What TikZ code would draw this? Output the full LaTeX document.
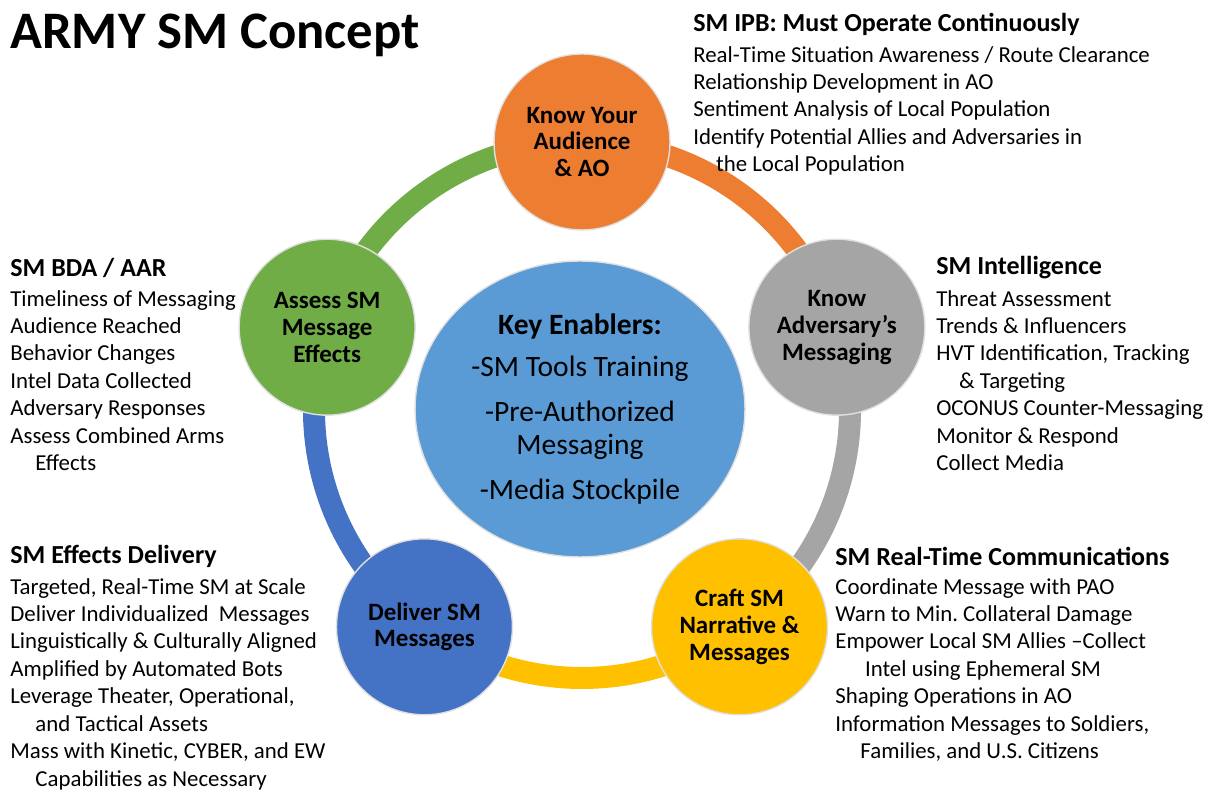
\documentclass[tikz,border=0pt]{standalone}
\usepackage{fontspec}
\setmainfont{Carlito}
\usetikzlibrary{positioning,shapes.geometric}
\frenchspacing

\definecolor{audorange}{HTML}{ED7D31}
\definecolor{advgray}{HTML}{A5A5A5}
\definecolor{craftyellow}{HTML}{FFC000}
\definecolor{deliverblue}{HTML}{4472C4}
\definecolor{assessgreen}{HTML}{70AD47}
\definecolor{keyblue}{HTML}{5B9BD5}

\tikzset{
  stage/.style={circle, minimum size=3.52cm, inner sep=0pt, draw=black!12,
    line width=0.8pt, align=center, font=\fontsize{14.2}{15.3}\selectfont\bfseries},
  ringarc/.style={line width=0.44cm},
  head/.style={anchor=west, inner sep=0pt, font=\fontsize{14.8}{17}\selectfont\bfseries},
  items/.style={anchor=north west, inner sep=0pt, align=left,
    font=\fontsize{13}{15.6}\selectfont},
}

\begin{document}
\begin{tikzpicture}[x=0.02cm, y=0.02cm]
    \useasboundingbox (0,0) rectangle (1210,791);
    \coordinate (ctr) at (582,381);

    % ring between the five stages
    \draw[ringarc, audorange] ([shift={(90:268)}]ctr) arc[start angle=90, end angle=18, radius=268];
    \draw[ringarc, advgray] ([shift={(18:268)}]ctr) arc[start angle=18, end angle=-54, radius=268];
    \draw[ringarc, craftyellow] ([shift={(-54:268)}]ctr) arc[start angle=-54, end angle=-126, radius=268];
    \draw[ringarc, deliverblue] ([shift={(-126:268)}]ctr) arc[start angle=-126, end angle=-198, radius=268];
    \draw[ringarc, assessgreen] ([shift={(162:268)}]ctr) arc[start angle=162, end angle=90, radius=268];

    % stages
    \node[stage, fill=audorange] (aud) at ([shift={(90:268)}]ctr) {Know Your\\Audience\\\& AO};
    \node[stage, fill=advgray] (adv) at ([shift={(18:268)}]ctr) {Know\\Adversary’s\\Messaging};
    \node[stage, fill=craftyellow] (craft) at ([shift={(-54:268)}]ctr) {Craft SM\\Narrative \&\\Messages};
    \node[stage, fill=deliverblue] (deliver) at ([shift={(-126:268)}]ctr) {Deliver SM\\Messages};
    \node[stage, fill=assessgreen] (assess) at ([shift={(162:268)}]ctr) {Assess SM\\Message\\Effects};

    % key enablers in the middle
    \node[ellipse, fill=keyblue, draw=black!12, line width=0.8pt, minimum width=6.6cm,
      minimum height=5.92cm, inner sep=0pt, align=center,
      font=\fontsize{16.8}{19}\selectfont] (keys) at (580,382)
      {{\bfseries Key Enablers:}\\[5pt]-SM Tools Training\\[6.5pt]-Pre-Authorized\\Messaging\\[6.5pt]-Media Stockpile};

    \node[anchor=west, inner sep=0pt, font=\fontsize{30}{36}\selectfont\bfseries] (title) at (10,756) {ARMY SM Concept};

    % text blocks
    \node[head] (ipb) at (693,767) {SM IPB: Must Operate Continuously};
    \node[items, below=12.5pt of ipb.west, anchor=north west] (ipblist) {Real-Time Situation Awareness / Route Clearance\\
      Relationship Development in AO\\
      Sentiment Analysis of Local Population\\
      Identify Potential Allies and Adversaries in\\
      \hspace*{1.0em}the Local Population};

    \node[head] (intel) at (936,523) {SM Intelligence};
    \node[items, below=12.5pt of intel.west, anchor=north west] (intellist) {Threat Assessment\\
      Trends \& Influencers\\
      HVT Identification, Tracking\\
      \hspace*{1.0em}\& Targeting\\
      OCONUS Counter-Messaging\\
      Monitor \& Respond\\
      Collect Media};

    \node[head] (rtc) at (835,235) {SM Real-Time Communications};
    \node[items, below=12.5pt of rtc.west, anchor=north west] (rtclist) {Coordinate Message with PAO\\
      Warn to Min. Collateral Damage\\
      Empower Local SM Allies –Collect\\
      \hspace*{1.3em}Intel using Ephemeral SM\\
      Shaping Operations in AO\\
      Information Messages to Soldiers,\\
      \hspace*{1.1em}Families, and U.S. Citizens};

    \node[head] (sed) at (10,235) {SM Effects Delivery};
    \node[items, below=12.5pt of sed.west, anchor=north west] (sedlist) {Targeted, Real-Time SM at Scale\\
      Deliver Individualized\ \ Messages\\
      Linguistically \& Culturally Aligned\\
      Amplified by Automated Bots\\
      Leverage Theater, Operational,\\
      \hspace*{1.1em}and Tactical Assets\\
      Mass with Kinetic, CYBER, and EW\\
      \hspace*{1.1em}Capabilities as Necessary};

    \node[head] (bda) at (10,523) {SM BDA / AAR};
    \node[items, below=12.5pt of bda.west, anchor=north west] (bdalist) {Timeliness of Messaging\\
      Audience Reached\\
      Behavior Changes\\
      Intel Data Collected\\
      Adversary Responses\\
      Assess Combined Arms\\
      \hspace*{1.1em}Effects};
\end{tikzpicture}
\end{document}
